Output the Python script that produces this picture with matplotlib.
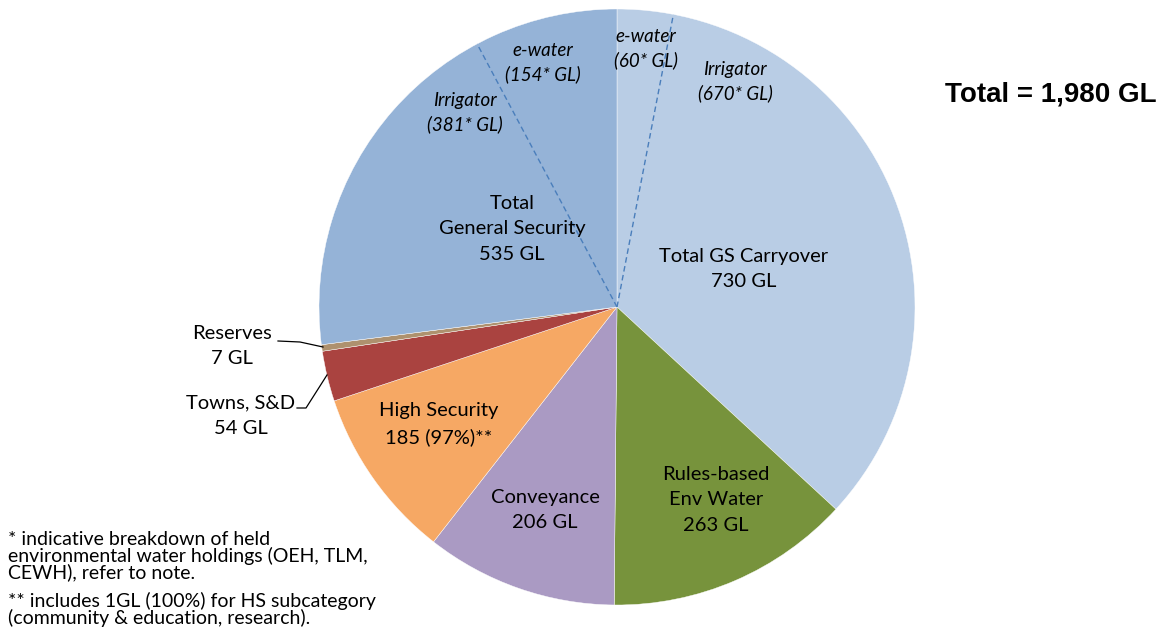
import numpy as np
import matplotlib
matplotlib.use("Agg")
import matplotlib.pyplot as plt

# ---- data ----
categories = ["Total GS Carryover", "Rules-based Env Water", "Conveyance",
              "High Security", "Towns, S&D", "Reserves", "Total General Security"]
volumes = [730, 263, 206, 185, 54, 7, 535]
colors = ["#B9CDE5", "#77933C", "#AA9AC3", "#F6A864", "#AA4340", "#AE916E", "#95B3D7"]
carryover_ewater = 60
carryover_irrigator = 670
gs_ewater = 154
gs_irrigator = 381
total = sum(volumes)

W, H = 1161, 635
CX, CY, R = 617, 307, 298

fig = plt.figure(figsize=(W / 100, H / 100), dpi=100)
ax = fig.add_axes([(CX - R) / W, (H - CY - R) / H, 2 * R / W, 2 * R / H])

ax.pie(volumes, colors=colors, startangle=90, counterclock=False, radius=1,
       wedgeprops=dict(edgecolor="white", linewidth=0.3))
ax.set_xlim(-1, 1)
ax.set_ylim(-1, 1)
ax.set_aspect("equal")
ax.axis("off")


def px(x, y):
    """image pixel -> data coords"""
    return (x - CX) / R, (CY - y) / R


# dashed split lines for the held environmental water breakdown
for ang in [carryover_ewater / total * 360, -gs_ewater / total * 360]:
    t = np.deg2rad(90 - ang)
    ax.plot([0, np.cos(t)], [0, np.sin(t)], ls=(0, (4, 2.5)), color="#4A7EBB", lw=1)

FONT = "Lato"
lab = dict(ha="center", va="center", fontsize=14.5, family=FONT, color="black",
           linespacing=1.62)
ital = dict(ha="center", va="center", fontsize=13.5, family=FONT, style="italic",
            color="black", linespacing=1.42)

ax.text(*px(646, 49), f"e-water\n({carryover_ewater}* GL)", **ital)
ax.text(*px(735, 82), f"Irrigator\n({carryover_irrigator}* GL)", **ital)
ax.text(*px(543, 63), f"e-water\n({gs_ewater}* GL)", **ital)
ax.text(*px(465, 113), f"Irrigator\n({gs_irrigator}* GL)", **ital)

ax.text(*px(512, 229), f"Total\nGeneral Security\n{volumes[6]} GL", **lab)
ax.text(*px(744, 269), f"{categories[0]}\n{volumes[0]} GL", **lab)
ax.text(*px(716, 500), f"Rules-based\nEnv Water\n{volumes[1]} GL", **lab)
ax.text(*px(545, 510), f"{categories[2]}\n{volumes[2]} GL", **lab)
ax.text(*px(439, 424), f"{categories[3]}\n{volumes[3]} (97%)**", **lab)
ax.text(*px(232, 346), f"{categories[5]}\n{volumes[5]} GL", **lab)
ax.text(*px(241, 416), f"{categories[4]}\n{volumes[4]} GL", **lab)

# leader lines
xs, ys = zip(*[px(278, 341), px(300, 342), px(323, 347)])
ax.plot(xs, ys, color="black", lw=0.9, clip_on=False)
xs, ys = zip(*[px(297, 408), px(306, 408), px(327, 375)])
ax.plot(xs, ys, color="black", lw=0.9, clip_on=False)

fig.text(945 / W, 1 - 94 / H, f"Total = {total:,} GL", fontsize=20,
         fontweight="bold", family="Liberation Sans", ha="left", va="center")

fig.text(8 / W, 1 - 531 / H,
         "* indicative breakdown of held\nenvironmental water holdings (OEH, TLM,\nCEWH), refer to note.",
         fontsize=14, family=FONT, ha="left", va="top", linespacing=0.92)
fig.text(8 / W, 1 - 592 / H,
         "** includes 1GL (100%) for HS subcategory\n(community & education, research).",
         fontsize=14, family=FONT, ha="left", va="top", linespacing=0.92)

fig.savefig("out.png", dpi=100)
